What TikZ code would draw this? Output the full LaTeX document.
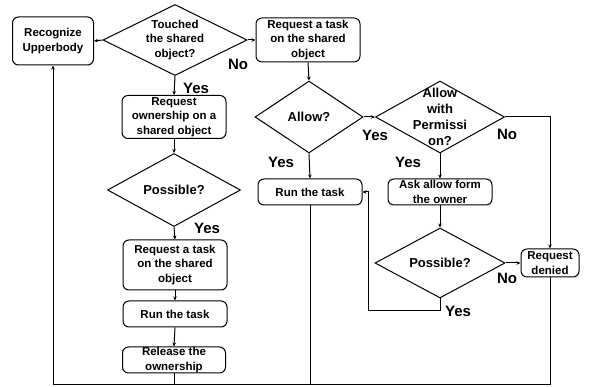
\documentclass[tikz,border=0pt]{standalone}
\usepackage{fontspec}
\setmainfont{Liberation Sans}
\usetikzlibrary{shapes.geometric, arrows.meta}

\begin{document}
\begin{tikzpicture}[x=1pt, y=-1pt, line width=1pt,
    box/.style={draw, rounded corners=6pt, inner sep=0pt, align=center,
      font=\fontsize{11.5}{14.5}\selectfont\bfseries},
    decision/.style={draw, diamond, aspect=2, inner sep=0pt, align=center,
      font=\fontsize{13}{15}\selectfont\bfseries},
    lbl/.style={font=\fontsize{15}{18}\selectfont\bfseries, inner sep=0pt},
    arr/.style={-{Stealth[length=4pt, width=3.5pt]}}]
  \useasboundingbox (0,0) rectangle (592,387);
  % left column
  \node[box, minimum width=81pt, minimum height=48pt] (rec) at (53,41) {Recognize\\Upperbody};
  \node[decision, minimum width=144pt, minimum height=71pt,
        font=\fontsize{11.5}{14.5}\selectfont\bfseries] (touch) at (175,40) {Touched\\the shared\\object?};
  \node[box, minimum width=104pt, minimum height=43pt] (own) at (174,117) {Request\\ownership on a\\shared object};
  \node[decision, minimum width=133pt, minimum height=73pt] (poss1) at (174,190) {Possible?};
  \node[box, minimum width=104pt, minimum height=50pt] (reqL) at (175,265) {Request a task\\on the shared\\object};
  \node[box, minimum width=104pt, minimum height=26pt] (runL) at (175,314) {Run the task};
  \node[box, minimum width=103pt, minimum height=26pt] (rel) at (174,360) {Release the\\ownership};
  % right part
  \node[box, minimum width=104pt, minimum height=44pt] (reqT) at (308,40) {Request a task\\on the shared\\object};
  \node[decision, minimum width=108pt, minimum height=72pt] (allow) at (309,117) {Allow?};
  \node[decision, minimum width=129pt, minimum height=72pt,
        label={[align=center, inner sep=0pt, font=\fontsize{13}{16}\selectfont\bfseries]center:Allow\\with\\Permissi\\on?}] (awp) at (440,117) {};
  \node[box, minimum width=104pt, minimum height=26pt] (runR) at (310,192) {Run the task};
  \node[box, minimum width=104pt, minimum height=26pt] (ask) at (440,192) {Ask allow form\\the owner};
  \node[decision, minimum width=130pt, minimum height=70pt] (poss2) at (440,263) {Possible?};
  \node[box, minimum width=58pt, minimum height=28pt] (den) at (550,263) {Request\\denied};
  % Yes / No
  \node[lbl] (no1) at (238,64) {No};
  \node[lbl] (yes1) at (196,88) {Yes};
  \node[lbl] (yes2) at (207,228) {Yes};
  \node[lbl] (yes3) at (375,135) {Yes};
  \node[lbl] (yes4) at (281,162) {Yes};
  \node[lbl] (yes5) at (408,162) {Yes};
  \node[lbl] (no2) at (507,134) {No};
  \node[lbl] (no3) at (507,278) {No};
  \node[lbl] (yes6) at (458,311) {Yes};
  \coordinate (bot) at (0,385);
  \coordinate (loop) at (368,311);
  % connectors
  \draw[arr] (touch.west) -- (rec.east);
  \draw[arr] (touch.east) -- (reqT.west);
  \draw[arr] (touch.south) -- (own.north);
  \draw[arr] (own.south) -- (poss1.north);
  \draw[arr] (poss1.south) -- (reqL.north);
  \draw[arr] (reqL.south) -- (runL.north);
  \draw[arr] (runL.south) -- (rel.north);
  \draw[arr] (reqT.south) -- (allow.north);
  \draw[arr] (allow.east) -- (awp.west);
  \draw[arr] (allow.south) -- (runR.north);
  \draw[arr] (awp.south) -- (ask.north);
  \draw[arr] (awp.east) -| (den.north);
  \draw[arr] (ask.south) -- (poss2.north);
  \draw[arr] (poss2.east) -- (den.west);
  \draw[arr] (poss2.south) |- (loop) |- (runR.east);
  % back to the start
  \draw[arr] (den.south) -- (den.south |- bot) -- (rec.south |- bot) -- (rec.south);
  \draw (rel.south) -- (rel.south |- bot);
  \draw (runR.south) -- (runR.south |- bot);
\end{tikzpicture}
\end{document}
